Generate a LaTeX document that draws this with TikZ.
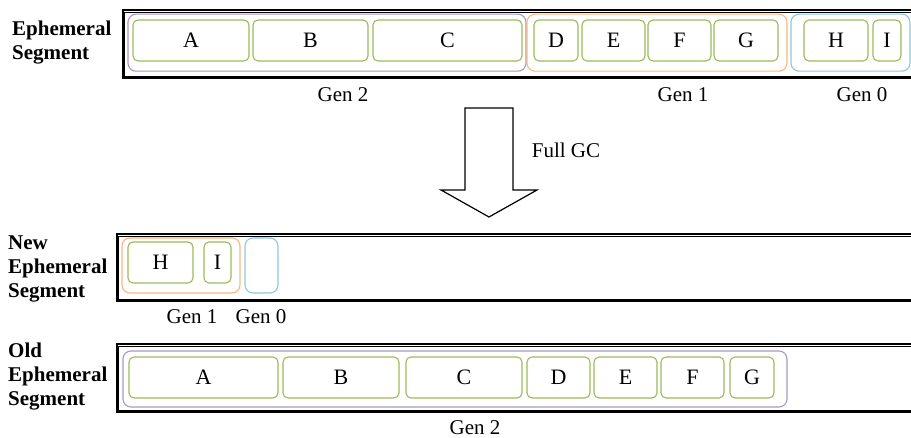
\documentclass[tikz,border=0pt]{standalone}
\usepackage{fontspec}
\setmainfont{Liberation Serif}
\usetikzlibrary{positioning}
\definecolor{blkgreen}{HTML}{9BBB59}
\definecolor{genpurple}{HTML}{A898C2}
\definecolor{genorange}{HTML}{F7B784}
\definecolor{genblue}{HTML}{8CC8DA}

\begin{document}
\begin{tikzpicture}[x=1pt,y=-1pt]
\tikzstyle{blk}=[rectangle, rounded corners=5pt, draw=blkgreen, line width=1.1pt,
	inner sep=2pt, minimum height=41pt, font=\fontsize{22}{24}\selectfont
]
\tikzstyle{gen}=[rectangle, rounded corners=8pt, line width=1.1pt, inner sep=0pt]
\tikzstyle{seg}=[rectangle, draw=black, line width=1.6pt, inner sep=0pt]
\tikzstyle{segin}=[rectangle, draw=black, line width=0.6pt, inner sep=0pt]
\tikzstyle{lbl}=[font=\fontsize{21}{24}\selectfont, inner sep=0pt]
\tikzstyle{title}=[font=\bfseries\fontsize{21}{24}\selectfont, align=left,
	anchor=west, inner sep=0pt
]
\useasboundingbox (0,0) rectangle (911,438);

% ephemeral segment before the collection
\node[seg, minimum width=792pt, minimum height=67.8pt] (seg1) at (519,44.1) {};
\node[segin, minimum width=791pt, minimum height=63.5pt] (seg1in) at (520,44.1) {};
\node[title] (t1) at (12,43) {Ephemeral\\Segment};
\node[gen, draw=genpurple, minimum width=398pt, minimum height=57pt] (g2) at (327,42.7) {};
\node[gen, draw=genorange, minimum width=260pt, minimum height=57pt] (g1) at (657,42.7) {};
\node[gen, draw=genblue, minimum width=119pt, minimum height=57pt] (g0) at (850.5,42.7) {};
\node[blk, minimum width=116pt] (a) at (191,40.5) {A};
\node[blk, minimum width=115pt] (b) at (310.5,40.5) {B};
\node[blk, minimum width=149pt] (c) at (447.5,40.5) {C};
\node[blk, minimum width=44pt] (d) at (556,40.5) {D};
\node[blk, minimum width=63pt] (e) at (613.5,40.5) {E};
\node[blk, minimum width=63pt] (f) at (679.5,40.5) {F};
\node[blk, minimum width=64pt] (g) at (746,40.5) {G};
\node[blk, minimum width=64pt] (h) at (836,40.5) {H};
\node[blk, minimum width=28pt] (i) at (887,40.5) {I};
\node[lbl] (l2) at (343,95) {Gen 2};
\node[lbl] (l1) at (683,95) {Gen 1};
\node[lbl] (l0) at (862,95) {Gen 0};

% full collection
\draw[line width=1.2pt] (465,108) -- (513,108) -- (513,190) -- (537,190)
	-- (489,217) -- (441,190) -- (465,190) -- cycle;
\node[lbl] (gc) at (566,150) {Full GC};

% new ephemeral segment
\node[seg, minimum width=798pt, minimum height=67pt] (seg2) at (516,267.5) {};
\node[segin, minimum width=797pt, minimum height=63.2pt] (seg2in) at (517,267.5) {};
\node[title] (t2) at (8,269) {New\\Ephemeral\\Segment};
\node[gen, draw=genorange, minimum width=118pt, minimum height=55pt] (n1) at (181,265.5) {};
\node[gen, draw=genblue, minimum width=33pt, minimum height=55pt] (n0) at (261.5,265.5) {};
\node[blk, minimum width=65pt] (nh) at (160.5,262.5) {H};
\node[blk, minimum width=27pt] (ni) at (217.5,262.5) {I};
\node[lbl] (nl1) at (192,317) {Gen 1};
\node[lbl] (nl0) at (261,317) {Gen 0};

% old ephemeral segment
\node[seg, minimum width=798pt, minimum height=68pt] (seg3) at (516,378) {};
\node[segin, minimum width=797pt, minimum height=64.2pt] (seg3in) at (517,378) {};
\node[title] (t3) at (8,377) {Old\\Ephemeral\\Segment};
\node[gen, draw=genpurple, minimum width=664pt, minimum height=56pt] (o2) at (455,379) {};
\node[blk, minimum width=149pt] (oa) at (203.5,377.5) {A};
\node[blk, minimum width=116pt] (ob) at (341,377.5) {B};
\node[blk, minimum width=116pt] (oc) at (464,377.5) {C};
\node[blk, minimum width=63pt] (od) at (558.5,377.5) {D};
\node[blk, minimum width=63pt] (oe) at (625.5,377.5) {E};
\node[blk, minimum width=63pt] (of) at (692.5,377.5) {F};
\node[blk, minimum width=44pt] (og) at (752,377.5) {G};
\node[lbl] (ol2) at (475,428) {Gen 2};

\end{tikzpicture}
\end{document}
